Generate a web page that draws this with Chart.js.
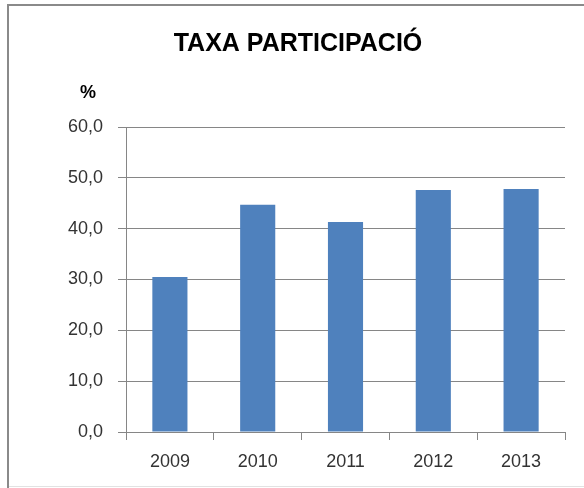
<!DOCTYPE html>
<html lang="ca">
<head>
<meta charset="utf-8">
<title>Taxa participació</title>
<style>
  html, body { margin: 0; padding: 0; background: #fff; }
  #wrap { width: 584px; height: 488px; }
</style>
</head>
<body>
<div id="wrap"><canvas id="chart" width="584" height="488"></canvas></div>
<script src="https://cdn.jsdelivr.net/npm/chart.js@4/dist/chart.umd.min.js"></script>
<script>
// data
const years = ['2009', '2010', '2011', '2012', '2013'];
const rates = [30.5, 44.7, 41.3, 47.6, 47.8];
const yTicks = [0, 10, 20, 30, 40, 50, 60];

const FONT = '"Liberation Sans", Arial, sans-serif';
const GRID = '#868686';

// white background, frame lines and the "%" unit label
const frame = {
  id: 'frame',
  beforeDraw(chart) {
    const c = chart.ctx;
    c.save();
    c.fillStyle = '#fff';
    c.fillRect(0, 0, chart.width, chart.height);
    c.fillStyle = '#8a8a8a';
    c.fillRect(7, 4, chart.width - 7, 2);
    c.fillRect(7, 4, 2, chart.height - 4);
    c.fillStyle = '#e2e2e2';
    c.fillRect(9, 486, chart.width - 9, 1);
    c.restore();
  },
  afterDraw(chart) {
    const c = chart.ctx;
    c.save();
    c.font = 'bold 18px ' + FONT;
    c.fillStyle = '#000';
    c.textAlign = 'center';
    c.textBaseline = 'middle';
    c.fillText('%', 88, 93);
    c.restore();
  }
};

new Chart(document.getElementById('chart'), {
  type: 'bar',
  data: {
    labels: years,
    datasets: [{
      data: rates,
      backgroundColor: '#4f81bd',
      borderWidth: 0,
      categoryPercentage: 0.8,
      barPercentage: 0.5
    }]
  },
  options: {
    responsive: false,
    animation: false,
    layout: { padding: { left: 31, right: 19, top: 0, bottom: 0 } },
    plugins: {
      legend: { display: false },
      tooltip: { enabled: false },
      title: {
        display: true,
        text: 'TAXA PARTICIPACIÓ',
        color: '#000',
        font: { family: FONT, size: 25, weight: 'bold', lineHeight: 1.2 },
        padding: { top: 29, bottom: 68 }
      }
    },
    scales: {
      x: {
        offset: true,
        grid: {
          display: true,
          offset: true,
          drawOnChartArea: false,
          drawTicks: true,
          tickLength: 8,
          color: GRID
        },
        border: { display: true, color: GRID },
        ticks: { color: '#333', font: { family: FONT, size: 18 }, padding: 11 },
        afterFit(s) { s.height = 56; }
      },
      y: {
        min: 0,
        max: 60,
        afterBuildTicks(s) { s.ticks = yTicks.map(v => ({ value: v })); },
        grid: { color: GRID, tickLength: 8, drawTicks: true },
        border: { display: true, color: GRID },
        ticks: {
          color: '#333',
          font: { family: FONT, size: 18 },
          padding: 15,
          callback: v => v.toFixed(1).replace('.', ',')
        },
        afterFit(s) { s.width = 95; }
      }
    }
  },
  plugins: [frame]
});
</script>
</body>
</html>
